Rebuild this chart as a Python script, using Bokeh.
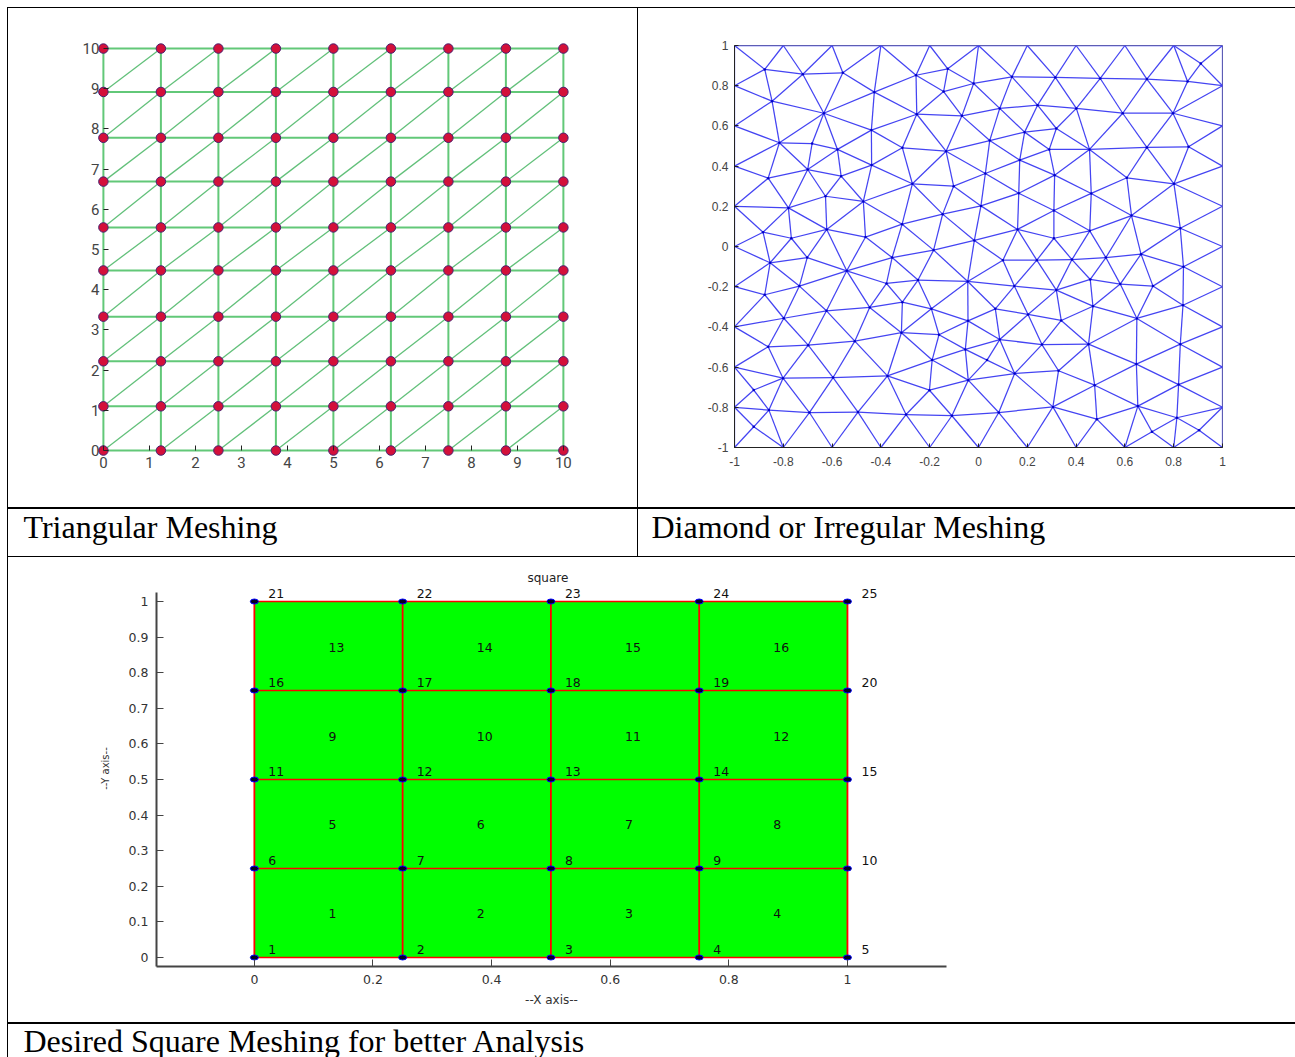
from bokeh.plotting import figure
from bokeh.layouts import column, row
from bokeh.models import Spacer, FixedTicker
from bokeh.core.properties import value
from bokeh.embed import file_html
from bokeh.resources import INLINE

# ---------- captions ----------
caption_a = ["Triangular Meshing"]
caption_b = ["Diamond or Irregular Meshing"]
caption_c = ["Desired Square Meshing for better Analysis"]

# ---------- triangular mesh ----------
tri_x = [0, 1.25, 2.5, 3.75, 5, 6.25, 7.5, 8.75, 10]
tri_y = [0, 1.10, 2.22, 3.33, 4.48, 5.55, 6.69, 7.78, 8.92, 10]
tri_ticks = [0, 1, 2, 3, 4, 5, 6, 7, 8, 9, 10]

# ---------- irregular mesh ----------
irr_ticks = [-1, -0.8, -0.6, -0.4, -0.2, 0, 0.2, 0.4, 0.6, 0.8, 1]
irr_labels = ["-1", "-0.8", "-0.6", "-0.4", "-0.2", "0", "0.2", "0.4", "0.6", "0.8", "1"]
irr_interior = [
    (-0.876, 0.881), (-0.72, 0.857), (-0.556, 0.864), (-0.256, 0.852), (-0.126, 0.884),
    (-0.846, 0.723), (-0.634, 0.663), (-0.427, 0.768), (-0.253, 0.658), (-0.143, 0.771),
    (-0.068, 0.650), (-0.816, 0.516), (-0.682, 0.512), (-0.439, 0.579), (-0.578, 0.483),
    (-0.312, 0.491), (-0.133, 0.474), (-0.438, 0.405), (-0.700, 0.383), (-0.563, 0.350),
    (-0.862, 0.340), (-0.271, 0.312), (-0.102, 0.300), (-0.627, 0.250), (-0.472, 0.224),
    (-0.779, 0.192), (-0.147, 0.161), (-0.313, 0.111), (-0.622, 0.085), (-0.883, 0.071),
    (-0.767, 0.041), (-0.463, 0.047), (-0.184, -0.018), (-0.354, -0.055), (-0.702, -0.055),
    (-0.854, -0.081), (-0.540, -0.121), (-0.377, -0.184), (-0.248, -0.167), (-0.044, -0.174),
    (-0.734, -0.197), (-0.876, -0.240), (-0.623, -0.320), (-0.446, -0.303), (-0.312, -0.277),
    (-0.193, -0.310), (-0.798, -0.357), (-0.043, -0.370), (-0.316, -0.429), (-0.162, -0.439),
    (-0.507, -0.471), (-0.698, -0.491), (-0.862, -0.499), (-0.054, -0.512), (-0.190, -0.565),
    (-0.801, -0.655), (-0.596, -0.652), (-0.373, -0.644), (-0.042, -0.665), (-0.201, -0.715),
    (-0.859, -0.814), (-0.693, -0.826), (-0.494, -0.824), (-0.297, -0.836), (-0.109, -0.842),
    (-0.921, -0.714), (-0.921, -0.897), (0.911, 0.910), (0.904, -0.914),
    (-0.020, 0.811), (0.137, 0.844), (0.315, 0.841), (0.499, 0.836), (0.690, 0.833),
    (0.857, 0.821), (0.087, 0.687), (0.242, 0.703), (0.401, 0.687), (0.591, 0.663),
    (0.797, 0.663), (0.319, 0.587), (0.189, 0.569), (0.046, 0.527), (0.290, 0.483),
    (0.455, 0.483), (0.690, 0.493), (0.861, 0.496), (0.169, 0.430), (0.028, 0.363),
    (0.312, 0.355), (0.608, 0.342), (0.801, 0.312), (0.165, 0.265), (0.462, 0.264),
    (0.010, 0.202), (0.309, 0.179), (0.627, 0.154), (0.827, 0.091), (0.160, 0.085),
    (0.456, 0.078), (0.309, 0.041), (-0.017, 0.030), (0.666, -0.038), (0.100, -0.068),
    (0.239, -0.068), (0.383, -0.065), (0.522, -0.055), (0.840, -0.101), (0.147, -0.197),
    (0.319, -0.217), (0.458, -0.164), (0.581, -0.187), (0.715, -0.197), (0.069, -0.310),
    (0.203, -0.338), (0.339, -0.368), (0.469, -0.297), (0.649, -0.358), (0.838, -0.292),
    (0.087, -0.463), (0.260, -0.488), (0.451, -0.486), (0.827, -0.486), (0.035, -0.565),
    (0.148, -0.632), (0.328, -0.618), (0.647, -0.585), (0.476, -0.690), (0.820, -0.687),
    (0.305, -0.798), (0.653, -0.794), (0.083, -0.826), (0.485, -0.859), (0.813, -0.852),
    (0.711, -0.922),
]
irr_edge = [-1, -0.8, -0.6, -0.4, -0.2, 0, 0.2, 0.4, 0.6, 0.8, 1]

# ---------- square mesh ----------
sq_title = ["square"]
sq_x = [0, 0.25, 0.5, 0.75, 1]
sq_y = [0, 0.25, 0.5, 0.75, 1]
sq_xticks = [0, 0.2, 0.4, 0.6, 0.8, 1]
sq_yticks = [0, 0.1, 0.2, 0.3, 0.4, 0.5, 0.6, 0.7, 0.8, 0.9, 1]


def bar(w, h):
    return Spacer(width=w, height=h, styles={"background-color": "#000000"})


def delaunay_edges(pts):
    """Bowyer-Watson over the node list; returns the unique edges."""
    all_pts = list(pts) + [(-30.0, -30.0), (30.0, -30.0), (0.0, 40.0)]
    n = len(pts)

    def circum(t):
        (ax, ay), (bx, by), (cx, cy) = (all_pts[i] for i in t)
        d = 2 * (ax * (by - cy) + bx * (cy - ay) + cx * (ay - by))
        if abs(d) < 1e-14:
            return (0.0, 0.0, float("inf"))
        a2, b2, c2 = ax * ax + ay * ay, bx * bx + by * by, cx * cx + cy * cy
        ux = (a2 * (by - cy) + b2 * (cy - ay) + c2 * (ay - by)) / d
        uy = (a2 * (cx - bx) + b2 * (ax - cx) + c2 * (bx - ax)) / d
        return (ux, uy, (ux - ax) ** 2 + (uy - ay) ** 2)

    tris = {(n, n + 1, n + 2): circum((n, n + 1, n + 2))}
    for i in range(n):
        px, py = all_pts[i]
        bad = [t for t, (ux, uy, r) in tris.items() if (px - ux) ** 2 + (py - uy) ** 2 < r]
        count = {}
        for t in bad:
            for e in ((t[0], t[1]), (t[1], t[2]), (t[0], t[2])):
                count[e] = count.get(e, 0) + 1
            del tris[t]
        for e, c in count.items():
            if c == 1:
                t = tuple(sorted((e[0], e[1], i)))
                tris[t] = circum(t)
    edges = set()
    for t in tris:
        if max(t) >= n:
            continue
        edges.update({(t[0], t[1]), (t[1], t[2]), (t[0], t[2])})
    return edges


# ---------- panel A ----------
pa = figure(width=629, height=499, output_backend="svg", toolbar_location=None,
            x_range=(-0.65, 10.22), y_range=(-0.745, 10.25),
            min_border_left=65, min_border_right=64, min_border_top=30, min_border_bottom=27)
pa.grid.visible = False
pa.outline_line_color = None
grid_xs = [[v, v] for v in tri_x] + [[tri_x[0], tri_x[-1]] for _ in tri_y]
grid_ys = [[tri_y[0], tri_y[-1]] for _ in tri_x] + [[v, v] for v in tri_y]
pa.multi_line(grid_xs, grid_ys, line_color="#62c878", line_width=2)
diag_xs, diag_ys = [], []
for i in range(len(tri_x) - 1):
    for j in range(len(tri_y) - 1):
        diag_xs.append([tri_x[i], tri_x[i + 1]])
        diag_ys.append([tri_y[j], tri_y[j + 1]])
pa.multi_line(diag_xs, diag_ys, line_color="#62c07a", line_width=1.3)
node_x = [a for a in tri_x for _ in tri_y]
node_y = [b for _ in tri_x for b in tri_y]
pa.scatter(node_x, node_y, size=9.5, fill_color="#d3103a", line_color="#4a2070", line_width=1)
for ax, tk in ((pa.xaxis[0], tri_ticks), (pa.yaxis[0], tri_ticks)):
    ax.ticker = FixedTicker(ticks=tk)
    ax.fixed_location = 0
    ax.axis_line_color = None
    ax.major_tick_in = 5
    ax.major_tick_out = 0
    ax.minor_tick_line_color = None
    ax.major_tick_line_color = "#222222"
    ax.major_label_text_font = "Roboto"
    ax.major_label_text_font_size = "15px"
    ax.major_label_text_color = "#444444"
pa.xaxis[0].major_label_standoff = 6
pa.yaxis[0].major_label_standoff = 4

# ---------- panel B ----------
irr_nodes = []
for v in irr_edge:
    irr_nodes.append((v, 1.0))
    irr_nodes.append((v, -1.0))
for v in irr_edge[1:-1]:
    irr_nodes.append((-1.0, v))
    irr_nodes.append((1.0, v))
irr_nodes += irr_interior

pb = figure(width=657, height=499, output_backend="svg", toolbar_location=None,
            x_range=(-1, 1), y_range=(-1, 1),
            min_border_left=96, min_border_right=73, min_border_top=37, min_border_bottom=60)
pb.grid.visible = False
pb.outline_line_color = "#777777"
edges = sorted(delaunay_edges(irr_nodes))
pb.multi_line([[irr_nodes[a][0], irr_nodes[b][0]] for a, b in edges],
              [[irr_nodes[a][1], irr_nodes[b][1]] for a, b in edges],
              line_color="#4444f2", line_width=1.25)
pb.scatter([q[0] for q in irr_interior], [q[1] for q in irr_interior], size=2.5,
           fill_color="#0000c8", line_color=None)
for ax in (pb.xaxis[0], pb.yaxis[0]):
    ax.ticker = FixedTicker(ticks=irr_ticks)
    ax.major_label_overrides = dict(zip(irr_ticks, irr_labels))
    ax.axis_line_color = "#222222"
    ax.major_tick_in = 4
    ax.major_tick_out = 0
    ax.minor_tick_line_color = None
    ax.major_tick_line_color = "#222222"
    ax.major_label_text_font = "Liberation Sans"
    ax.major_label_text_font_size = "12px"
    ax.major_label_text_color = "#444444"
pb.xaxis[0].major_label_standoff = 9
pb.yaxis[0].major_label_standoff = 6

# ---------- panel C ----------
pc = figure(width=1287, height=465, output_backend="svg", toolbar_location=None,
            x_range=(-0.165, 1.167), y_range=(-0.0253, 1.0871),
            min_border_left=148, min_border_right=349, min_border_top=13, min_border_bottom=56)
pc.grid.visible = False
pc.outline_line_color = None
pc.quad(left=sq_x[0], right=sq_x[-1], bottom=sq_y[0], top=sq_y[-1],
        fill_color="#00ff00", line_color=None)
pc.multi_line([[v, v] for v in sq_x], [[sq_y[0], sq_y[-1]] for _ in sq_x],
              line_color="#ff0000", line_width=1.8)
pc.multi_line([[sq_x[0], sq_x[-1]] for _ in sq_y], [[v, v] for v in sq_y],
              line_color="#ff0000", line_width=1.3)
nx = [a for _ in sq_y for a in sq_x]
ny = [b for b in sq_y for _ in sq_x]
nid = [str(k + 1) for k in range(len(nx))]
pc.ellipse(nx, ny, width=8, height=5, width_units="screen", height_units="screen",
           fill_color="#000020", line_color="#0000ff", line_width=1)
pc.text(nx, ny, text=nid, x_offset=14, y_offset=-8, text_align="left", text_baseline="middle",
        text_font=value("DejaVu Sans"), text_font_size="12.5px", text_color="#111111")
ex, ey, eid = [], [], []
k = 1
for j in range(len(sq_y) - 1):
    for i in range(len(sq_x) - 1):
        ex.append((sq_x[i] + sq_x[i + 1]) / 2)
        ey.append((sq_y[j] + sq_y[j + 1]) / 2)
        eid.append(str(k))
        k += 1
pc.text(ex, ey, text=eid, text_align="left", text_baseline="middle", y_offset=1,
        text_font=value("DejaVu Sans"), text_font_size="12.5px", text_color="#111111")
pc.text([0.495], [1.0], text=sq_title, y_offset=-24, text_align="center", text_baseline="middle",
        text_font=value("DejaVu Sans"), text_font_size="12px", text_color="#222222")
pc.xaxis.ticker = FixedTicker(ticks=sq_xticks)
pc.yaxis.ticker = FixedTicker(ticks=sq_yticks)
pc.yaxis.bounds = (-0.0253, 1.0253)
pc.xaxis.axis_label = "--X axis--"
pc.yaxis.axis_label = "--Y axis--"
for ax in (pc.xaxis[0], pc.yaxis[0]):
    ax.axis_line_color = "#444444"
    ax.axis_line_width = 2
    ax.major_tick_in = 7
    ax.major_tick_out = 0
    ax.minor_tick_line_color = None
    ax.major_tick_line_color = "#444444"
    ax.major_label_text_font = "DejaVu Sans"
    ax.major_label_text_font_size = "12.5px"
    ax.major_label_text_color = "#333333"
    ax.major_label_standoff = 8
    ax.axis_label_text_font = "DejaVu Sans"
    ax.axis_label_text_font_style = "normal"
    ax.axis_label_text_color = "#333333"
pc.xaxis[0].axis_label_text_font_size = "12px"
pc.yaxis[0].axis_label_text_font_size = "10px"
pc.yaxis[0].axis_label_standoff = 15
pc.xaxis[0].axis_label_standoff = 6


# ---------- caption cells ----------
def cell(w, h, caption, dx, dy, **kw):
    p = figure(width=w, height=h, output_backend="svg", toolbar_location=None,
               x_range=(0, 1), y_range=(0, 1), min_border=0, **kw)
    p.axis.visible = False
    p.grid.visible = False
    p.outline_line_color = None
    p.background_fill_color = None
    p.border_fill_color = None
    p.text([0], [0.5], text=caption, x_offset=dx, y_offset=dy, text_baseline="middle",
           text_align="left", text_font=value("Liberation Serif"), text_font_size="32px",
           text_color="#000000")
    return p


ca = cell(629, 47, caption_a, 15, -6)
cb = cell(657, 47, caption_b, 13, -6)
cc = cell(1287, 36, caption_c, 15, 1, margin=(-3, 0, 0, 0))

page = column(
    bar(1288, 1),
    row(bar(1, 499), column(pa), bar(1, 499), column(pb), spacing=0),
    bar(1288, 2),
    row(bar(1, 47), ca, bar(1, 47), cb, spacing=0),
    bar(1288, 1),
    row(bar(1, 465), column(pc), spacing=0),
    bar(1288, 2),
    row(bar(1, 33), cc, spacing=0),
    spacing=0,
    margin=(7, 0, 0, 7),
)

open("out.html", "w").write(file_html(page, INLINE))
